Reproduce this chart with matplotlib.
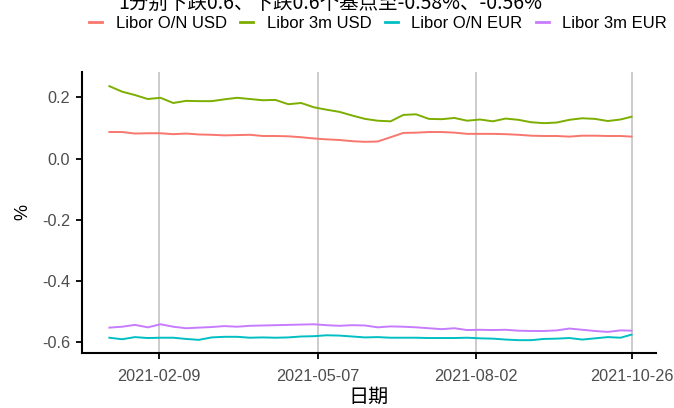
import matplotlib
matplotlib.use("Agg")
import matplotlib.pyplot as plt
import matplotlib.dates as mdates
import numpy as np
import pandas as pd

plt.rcParams['font.family'] = ['Liberation Sans', 'Noto Sans CJK SC', 'DejaVu Sans']
plt.rcParams['axes.unicode_minus'] = False

dates = pd.to_datetime([
    "2021-01-13", "2021-01-20", "2021-01-27", "2021-02-03", "2021-02-10", "2021-02-17",
    "2021-02-24", "2021-03-03", "2021-03-10", "2021-03-17", "2021-03-24", "2021-03-31",
    "2021-04-07", "2021-04-14", "2021-04-21", "2021-04-28", "2021-05-05", "2021-05-12",
    "2021-05-19", "2021-05-26", "2021-06-02", "2021-06-09", "2021-06-16", "2021-06-23",
    "2021-06-30", "2021-07-07", "2021-07-14", "2021-07-21", "2021-07-28", "2021-08-04",
    "2021-08-11", "2021-08-18", "2021-08-25", "2021-09-01", "2021-09-08", "2021-09-15",
    "2021-09-22", "2021-09-29", "2021-10-06", "2021-10-13", "2021-10-20", "2021-10-26",
])

libor_on_usd = [0.087, 0.087, 0.082, 0.083, 0.083, 0.080, 0.082, 0.079, 0.078, 0.076,
                0.077, 0.078, 0.074, 0.074, 0.073, 0.070, 0.066, 0.063, 0.061, 0.057,
                0.055, 0.056, 0.070, 0.084, 0.085, 0.087, 0.087, 0.085, 0.081, 0.081,
                0.081, 0.080, 0.078, 0.075, 0.074, 0.074, 0.072, 0.075, 0.075, 0.074,
                0.074, 0.072]
libor_3m_usd = [0.237, 0.219, 0.208, 0.195, 0.199, 0.182, 0.189, 0.188, 0.188, 0.194,
                0.199, 0.195, 0.191, 0.192, 0.178, 0.182, 0.168, 0.160, 0.153, 0.141,
                0.130, 0.124, 0.122, 0.143, 0.145, 0.130, 0.129, 0.133, 0.124, 0.128,
                0.122, 0.131, 0.127, 0.119, 0.116, 0.118, 0.127, 0.132, 0.130, 0.123,
                0.128, 0.137]
libor_on_eur = [-0.586, -0.591, -0.584, -0.587, -0.586, -0.586, -0.590, -0.593, -0.585, -0.583,
                -0.583, -0.586, -0.585, -0.586, -0.585, -0.582, -0.581, -0.578, -0.579, -0.582,
                -0.585, -0.584, -0.586, -0.586, -0.586, -0.587, -0.587, -0.587, -0.586, -0.588,
                -0.589, -0.592, -0.594, -0.594, -0.590, -0.589, -0.587, -0.592, -0.588, -0.584,
                -0.586, -0.576]
libor_3m_eur = [-0.553, -0.550, -0.544, -0.552, -0.542, -0.550, -0.555, -0.553, -0.551, -0.548,
                -0.550, -0.547, -0.546, -0.545, -0.544, -0.543, -0.542, -0.545, -0.547, -0.545,
                -0.546, -0.552, -0.549, -0.550, -0.552, -0.555, -0.558, -0.555, -0.561, -0.560,
                -0.561, -0.560, -0.563, -0.564, -0.564, -0.562, -0.556, -0.560, -0.564, -0.567,
                -0.562, -0.563]

series_names = ["Libor O/N USD", "Libor 3m USD", "Libor O/N EUR", "Libor 3m EUR"]
series_colors = ["#F8766D", "#7CAE00", "#00BFC4", "#C77CFF"]
series_values = [libor_on_usd, libor_3m_usd, libor_on_eur, libor_3m_eur]

x_breaks = pd.to_datetime(["2021-02-09", "2021-05-07", "2021-08-02", "2021-10-26"])
y_breaks = [0.2, 0.0, -0.2, -0.4, -0.6]
y_labels = ["0.2", "0.0", "-0.2", "-0.4", "-0.6"]

title_text = "1分别下跌0.6、下跌0.6个基点至-0.58%、-0.56%"

fig = plt.figure(figsize=(6.74, 4.08), dpi=100)
ax = fig.add_axes([82/674, 1-353/408, (656-82)/674, (353-72)/408])

for name, col, vals in zip(series_names, series_colors, series_values):
    ax.plot(dates, vals, color=col, lw=1.4, label=name, solid_joinstyle='round')

ax.set_xlim(pd.Timestamp("2020-12-29 00:00"), pd.Timestamp("2021-11-08 10:00"))
ax.set_ylim(-0.636, 0.2834)
ax.set_xticks(x_breaks)
ax.set_xticklabels([d.strftime("%Y-%m-%d") for d in x_breaks])
ax.set_yticks(y_breaks)
ax.set_yticklabels(y_labels)
ax.grid(axis='x', color='#BEBEBE', lw=1.1)
ax.grid(axis='y', visible=False)
ax.set_axisbelow(True)

for s in ['top', 'right']:
    ax.spines[s].set_visible(False)
for s in ['left', 'bottom']:
    ax.spines[s].set_linewidth(1.5)
    ax.spines[s].set_color('black')
ax.tick_params(axis='both', length=4.5, width=1.3, color='black',
               labelsize=11.7, labelcolor='#4D4D4D')
ax.tick_params(axis='x', pad=7)
ax.tick_params(axis='y', pad=4)

ax.set_xlabel("日期", fontsize=14.5, family=['Noto Sans CJK SC', 'DejaVu Sans'], labelpad=2)
ax.set_ylabel("%", fontsize=13, labelpad=8)

fig.text(330/674, 1-9/408, title_text, ha='center', va='baseline', fontsize=14,
         family=['Noto Sans CJK SC', 'DejaVu Sans'])

leg = fig.legend(loc='center', bbox_to_anchor=(378/674, 1-23/408), ncol=4, frameon=False,
                 fontsize=12, handlelength=0.8, handletextpad=0.8, columnspacing=0.8,
                 borderaxespad=0, borderpad=0)
for h in leg.get_lines():
    h.set_linewidth(2)

fig.savefig("out.png", dpi=100)
